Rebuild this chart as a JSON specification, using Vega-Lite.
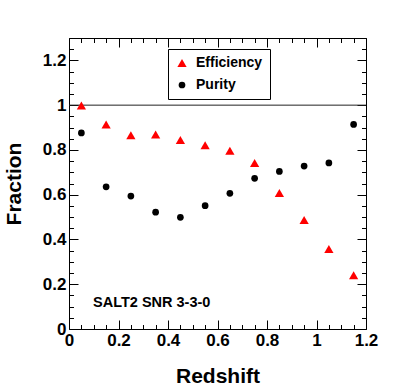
{
  "$schema": "https://vega.github.io/schema/vega-lite/v6.json",
  "width": 297,
  "height": 291,
  "autosize": {"type": "none"},
  "padding": {"left": 69, "top": 38, "right": 41, "bottom": 58},
  "background": "white",
  "config": {
    "font": "Liberation Sans",
    "view": {"stroke": null},
    "axis": {
      "domainColor": "black",
      "domainWidth": 1,
      "tickColor": "black",
      "tickWidth": 1,
      "labelFont": "Liberation Sans",
      "labelFontSize": 17,
      "labelFontWeight": "bold",
      "labelColor": "black",
      "titleFont": "Liberation Sans",
      "titleFontSize": 21,
      "titleFontWeight": "bold",
      "titleColor": "black",
      "grid": false,
      "labelFlush": false,
      "labelOverlap": false
    },
    "legend": {
      "orient": "none",
      "legendX": 99,
      "legendY": 11,
      "padding": 7,
      "strokeColor": "black",
      "fillColor": "white",
      "labelFont": "Liberation Sans",
      "labelFontSize": 14,
      "labelFontWeight": "bold",
      "labelColor": "black",
      "labelOffset": 7,
      "rowPadding": 8,
      "symbolStrokeWidth": 0
    }
  },
  "data": {
    "values": [
      {"z": 0.05, "fraction": 0.998, "series": "Efficiency"},
      {"z": 0.15, "fraction": 0.914, "series": "Efficiency"},
      {"z": 0.25, "fraction": 0.866, "series": "Efficiency"},
      {"z": 0.35, "fraction": 0.869, "series": "Efficiency"},
      {"z": 0.45, "fraction": 0.844, "series": "Efficiency"},
      {"z": 0.55, "fraction": 0.821, "series": "Efficiency"},
      {"z": 0.65, "fraction": 0.796, "series": "Efficiency"},
      {"z": 0.75, "fraction": 0.742, "series": "Efficiency"},
      {"z": 0.85, "fraction": 0.608, "series": "Efficiency"},
      {"z": 0.95, "fraction": 0.487, "series": "Efficiency"},
      {"z": 1.05, "fraction": 0.357, "series": "Efficiency"},
      {"z": 1.15, "fraction": 0.24, "series": "Efficiency"},
      {"z": 0.05, "fraction": 0.876, "series": "Purity"},
      {"z": 0.15, "fraction": 0.635, "series": "Purity"},
      {"z": 0.25, "fraction": 0.594, "series": "Purity"},
      {"z": 0.35, "fraction": 0.522, "series": "Purity"},
      {"z": 0.45, "fraction": 0.499, "series": "Purity"},
      {"z": 0.55, "fraction": 0.551, "series": "Purity"},
      {"z": 0.65, "fraction": 0.606, "series": "Purity"},
      {"z": 0.75, "fraction": 0.673, "series": "Purity"},
      {"z": 0.85, "fraction": 0.704, "series": "Purity"},
      {"z": 0.95, "fraction": 0.728, "series": "Purity"},
      {"z": 1.05, "fraction": 0.742, "series": "Purity"},
      {"z": 1.15, "fraction": 0.914, "series": "Purity"}
    ]
  },
  "layer": [
    {
      "data": {"values": [{"ref": 1}]},
      "mark": {"type": "rule", "color": "#222222", "strokeWidth": 1},
      "encoding": {
        "y": {"field": "ref", "type": "quantitative", "axis": null, "scale": {"domain": [0, 1.3], "nice": false, "zero": false}}
      }
    },
    {
      "transform": [{"filter": "datum.series === 'Efficiency'"}],
      "mark": {"type": "point", "filled": true, "opacity": 1},
      "encoding": {
        "x": {
          "field": "z", "type": "quantitative",
          "scale": {"domain": [0, 1.2], "nice": false, "zero": false},
          "axis": {
            "orient": "bottom",
            "title": "Redshift",
            "titlePadding": 13,
            "values": [0, 0.05, 0.1, 0.15, 0.2, 0.25, 0.3, 0.35, 0.4, 0.45, 0.5, 0.55, 0.6, 0.65, 0.7, 0.75, 0.8, 0.85, 0.9, 0.95, 1, 1.05, 1.1, 1.15, 1.2],
            "labelExpr": "abs(datum.value*5 - round(datum.value*5)) < 0.000001 ? format(datum.value, '~g') : ''",
            "tickSize": {"condition": {"test": "abs(datum.value*5 - round(datum.value*5)) < 0.000001", "value": -9}, "value": -4.5},
            "labelPadding": 12
          }
        },
        "y": {
          "field": "fraction", "type": "quantitative",
          "scale": {"domain": [0, 1.3], "nice": false, "zero": false},
          "axis": {
            "orient": "left",
            "title": "Fraction",
            "titlePadding": 18,
            "values": [0, 0.05, 0.1, 0.15, 0.2, 0.25, 0.3, 0.35, 0.4, 0.45, 0.5, 0.55, 0.6, 0.65, 0.7, 0.75, 0.8, 0.85, 0.9, 0.95, 1, 1.05, 1.1, 1.15, 1.2, 1.25, 1.3],
            "labelExpr": "abs(datum.value*5 - round(datum.value*5)) < 0.000001 ? format(datum.value, '~g') : ''",
            "tickSize": {"condition": {"test": "abs(datum.value*5 - round(datum.value*5)) < 0.000001", "value": -9}, "value": -4.5},
            "labelPadding": 12
          }
        },
        "color": {"field": "series", "type": "nominal", "scale": {"domain": ["Efficiency", "Purity"], "range": ["#ff0000", "#000000"]}, "legend": {"title": null}},
        "shape": {"field": "series", "type": "nominal", "scale": {"domain": ["Efficiency", "Purity"], "range": ["triangle-up", "circle"]}, "legend": {"title": null}},
        "size": {"field": "series", "type": "ordinal", "scale": {"domain": ["Efficiency", "Purity"], "range": [85, 45]}, "legend": {"title": null}}
      }
    },
    {
      "transform": [{"filter": "datum.series === 'Purity'"}],
      "mark": {"type": "point", "filled": true, "opacity": 1},
      "encoding": {
        "x": {
          "field": "z", "type": "quantitative",
          "scale": {"domain": [0, 1.2], "nice": false, "zero": false},
          "axis": {
            "orient": "top",
            "title": null,
            "labels": false,
            "values": [0, 0.05, 0.1, 0.15, 0.2, 0.25, 0.3, 0.35, 0.4, 0.45, 0.5, 0.55, 0.6, 0.65, 0.7, 0.75, 0.8, 0.85, 0.9, 0.95, 1, 1.05, 1.1, 1.15, 1.2],
            "tickSize": {"condition": {"test": "abs(datum.value*5 - round(datum.value*5)) < 0.000001", "value": -9}, "value": -4.5}
          }
        },
        "y": {
          "field": "fraction", "type": "quantitative",
          "scale": {"domain": [0, 1.3], "nice": false, "zero": false},
          "axis": {
            "orient": "right",
            "title": null,
            "labels": false,
            "values": [0, 0.05, 0.1, 0.15, 0.2, 0.25, 0.3, 0.35, 0.4, 0.45, 0.5, 0.55, 0.6, 0.65, 0.7, 0.75, 0.8, 0.85, 0.9, 0.95, 1, 1.05, 1.1, 1.15, 1.2, 1.25, 1.3],
            "tickSize": {"condition": {"test": "abs(datum.value*5 - round(datum.value*5)) < 0.000001", "value": -9}, "value": -4.5}
          }
        },
        "color": {"field": "series", "type": "nominal", "scale": {"domain": ["Efficiency", "Purity"], "range": ["#ff0000", "#000000"]}, "legend": {"title": null}},
        "shape": {"field": "series", "type": "nominal", "scale": {"domain": ["Efficiency", "Purity"], "range": ["triangle-up", "circle"]}, "legend": {"title": null}},
        "size": {"field": "series", "type": "ordinal", "scale": {"domain": ["Efficiency", "Purity"], "range": [85, 45]}, "legend": {"title": null}}
      }
    },
    {
      "data": {"values": [{"x": 0.097, "y": 0.1, "label": "SALT2 SNR 3-3-0"}]},
      "mark": {"type": "text", "align": "left", "baseline": "alphabetic", "fontWeight": "bold", "fontSize": 14.5, "color": "black", "font": "Liberation Sans"},
      "encoding": {
        "x": {"field": "x", "type": "quantitative", "axis": null, "scale": {"domain": [0, 1.2], "nice": false, "zero": false}},
        "y": {"field": "y", "type": "quantitative", "axis": null, "scale": {"domain": [0, 1.3], "nice": false, "zero": false}},
        "text": {"field": "label"}
      }
    }
  ],
  "resolve": {"axis": {"x": "independent", "y": "independent"}}
}
